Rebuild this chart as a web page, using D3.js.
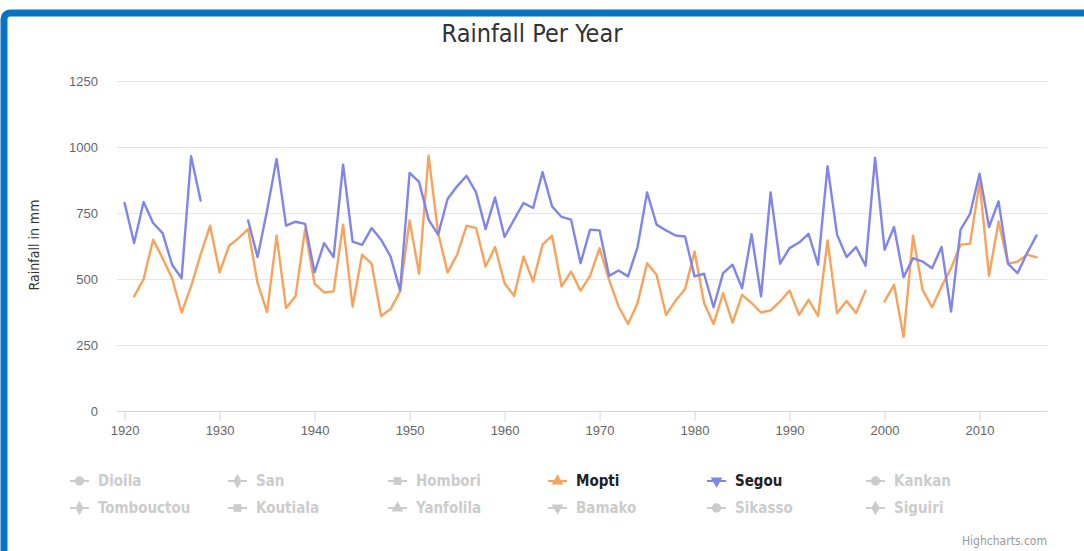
<!DOCTYPE html>
<html>
<head>
<meta charset="utf-8">
<script src="https://cdn.jsdelivr.net/npm/d3@7"></script>
<style>
  body { margin: 0; background: #fff; }
  svg { display: block; font-family: "Liberation Sans Narrow", "DejaVu Sans Condensed", "Open Sans", sans-serif; }
</style>
</head>
<body>
<script>
/*
* Données
*/

const years = d3.range(1920, 2017)

// null = pas de mesure
const mopti = [
  null, 434, 500, 649, 579, 503, 373, 472, 592, 702,
  525, 626, 655, 689, 484, 375, 664, 390, 436, 689,
  482, 449, 453, 706, 396, 592, 558, 360, 386, 453,
  722, 520, 967, 674, 525, 592, 702, 693, 547, 621,
  484, 436, 585, 490, 630, 664, 472, 528, 456, 512,
  617, 497, 396, 330, 409, 560, 516, 364, 418, 462,
  604, 409, 330, 446, 335, 440, 409, 373, 381, 415,
  456, 364, 421, 360, 646, 371, 417, 371, 456, null,
  415, 478, 280, 664, 459, 393, 472, 541, 630, 634,
  866, 512, 718, 558, 566, 592, 582
]

const segou = [
  788, 636, 792, 712, 674, 554, 503, 965, 797, null,
  null, null, null, 722, 583, 760, 955, 702, 717, 709,
  525, 636, 583, 933, 642, 629, 693, 649, 585, 456,
  902, 868, 725, 668, 803, 851, 891, 828, 689, 809,
  659, 725, 788, 769, 905, 775, 735, 725, 560, 687,
  684, 512, 532, 510, 621, 828, 706, 684, 665, 661,
  510, 520, 393, 522, 554, 465, 670, 434, 828, 558,
  617, 638, 671, 554, 927, 668, 583, 621, 550, 959,
  611, 697, 507, 579, 566, 541, 621, 377, 687, 747,
  899, 697, 794, 558, 522, 598, 665
]

const yTicks = [0, 250, 500, 750, 1000, 1250]
const xTicks = [1920, 1930, 1940, 1950, 1960, 1970, 1980, 1990, 2000, 2010]

// légende : nom, symbole, visible ou non
const legendNames = ['Dioila', 'San', 'Hombori', 'Mopti', 'Segou', 'Kankan',
  'Tombouctou', 'Koutiala', 'Yanfolila', 'Bamako', 'Sikasso', 'Siguiri']
const legendSymbols = ['circle', 'diamond', 'square', 'triangle', 'triangle-down', 'circle',
  'diamond', 'square', 'triangle', 'triangle-down', 'circle', 'diamond']
const legendColors = { Mopti: '#f7a35c', Segou: '#8085e9' }

/*
* Dimensions
*/

const WIDTH = 1084
const HEIGHT = 551
const LEFT = 117
const RIGHT = 1047
const TOP = 81
const BOTTOM = 411

const svg = d3.select('body').append('svg')
  .attr('width', WIDTH)
  .attr('height', HEIGHT)

// cadre bleu
svg.append('rect')
  .attr('x', 4).attr('y', 13)
  .attr('width', WIDTH + 20).attr('height', HEIGHT + 20)
  .attr('rx', 6)
  .attr('fill', 'none')
  .attr('stroke', '#0a72c2')
  .attr('stroke-width', 7)

svg.append('text')
  .attr('x', 532).attr('y', 42)
  .attr('text-anchor', 'middle')
  .attr('font-size', 25)
  .attr('fill', '#333')
  .text('Rainfall Per Year')

/*
* Echelles
*/

const xScale = d3.scaleLinear()
  .domain([1919.2, 2017.1])
  .range([LEFT, RIGHT])

const yScale = d3.scaleLinear()
  .domain([0, 1250])
  .range([BOTTOM, TOP])

// grille horizontale
svg.append('g')
  .selectAll('line')
  .data(yTicks.filter(d => d > 0))
  .enter()
  .append('line')
  .attr('x1', LEFT).attr('x2', RIGHT)
  .attr('y1', d => yScale(d) + 0.5).attr('y2', d => yScale(d) + 0.5)
  .attr('stroke', '#e6e6e6')

/*
* Axe vertical
*/

const axisY = d3.axisLeft(yScale)
  .tickValues(yTicks)
  .tickFormat(d3.format('d'))
  .tickSize(0)
  .tickPadding(0)

const leftAxis = svg.append('g')
  .attr('transform', `translate(${LEFT - 19}, 0)`)
  .call(axisY)
leftAxis.select('.domain').remove()
leftAxis.selectAll('text')
  .attr('font-family', null)
  .attr('font-size', 13)
  .attr('fill', '#666')

svg.append('text')
  .attr('transform', 'translate(39, 245) rotate(-90)')
  .attr('text-anchor', 'middle')
  .attr('font-size', 14)
  .attr('fill', '#333')
  .text('Rainfall in mm')

/*
* Axe horizontal
*/

const axisX = d3.axisBottom(xScale)
  .tickValues(xTicks)
  .tickFormat(d3.format('d'))
  .tickSize(10)
  .tickSizeOuter(0)
  .tickPadding(5)

const bottomAxis = svg.append('g')
  .attr('transform', `translate(0, ${BOTTOM})`)
  .call(axisX)
bottomAxis.select('.domain').attr('stroke', '#ccd6eb')
bottomAxis.selectAll('.tick line').attr('stroke', '#ccd6eb')
bottomAxis.selectAll('text')
  .attr('font-family', null)
  .attr('font-size', 13)
  .attr('fill', '#666')

/*
* Courbes
*/

const line = values => d3.line()
  .defined((d, i) => values[i] != null)
  .x((d, i) => xScale(years[i]))
  .y((d, i) => yScale(values[i]))(values)

const series = [
  { values: mopti, color: '#f7a35c' },
  { values: segou, color: '#8085e9' }
]

svg.append('g')
  .selectAll('path')
  .data(series)
  .enter()
  .append('path')
  .attr('d', s => line(s.values))
  .attr('fill', 'none')
  .attr('stroke', s => s.color)
  .attr('stroke-width', 2.4)
  .attr('stroke-linejoin', 'round')
  .attr('stroke-linecap', 'round')

/*
* Légende
*/

const colX = [70, 228, 388, 548, 707, 866]
const rowY = [481, 508]
const symbolTypes = {
  'circle': d3.symbolCircle,
  'diamond': d3.symbolDiamond,
  'square': d3.symbolSquare,
  'triangle': d3.symbolTriangle,
  'triangle-down': d3.symbolTriangle
}

const items = svg.append('g')
  .selectAll('g')
  .data(legendNames)
  .enter()
  .append('g')
  .attr('transform', (d, i) => `translate(${colX[i % 6]}, ${rowY[Math.floor(i / 6)]})`)

items.append('line')
  .attr('x1', 0).attr('x2', 19)
  .attr('stroke', d => legendColors[d] || '#ccc')
  .attr('stroke-width', 2)

items.append('path')
  .attr('transform', (d, i) => `translate(9.5, 0)${legendSymbols[i] === 'triangle-down' ? ' rotate(180)' : ''}`)
  .attr('d', (d, i) => d3.symbol(symbolTypes[legendSymbols[i]], legendSymbols[i] === 'circle' ? 70 : 60)())
  .attr('fill', d => legendColors[d] || '#ccc')

items.append('text')
  .attr('x', 28)
  .attr('dy', '0.35em')
  .attr('font-size', 15)
  .attr('font-weight', 'bold')
  .attr('fill', d => legendColors[d] ? '#222' : '#ccc')
  .text(d => d)

svg.append('text')
  .attr('x', 1047).attr('y', 545)
  .attr('text-anchor', 'end')
  .attr('font-size', 12)
  .attr('fill', '#999')
  .text('Highcharts.com')
</script>
</body>
</html>
